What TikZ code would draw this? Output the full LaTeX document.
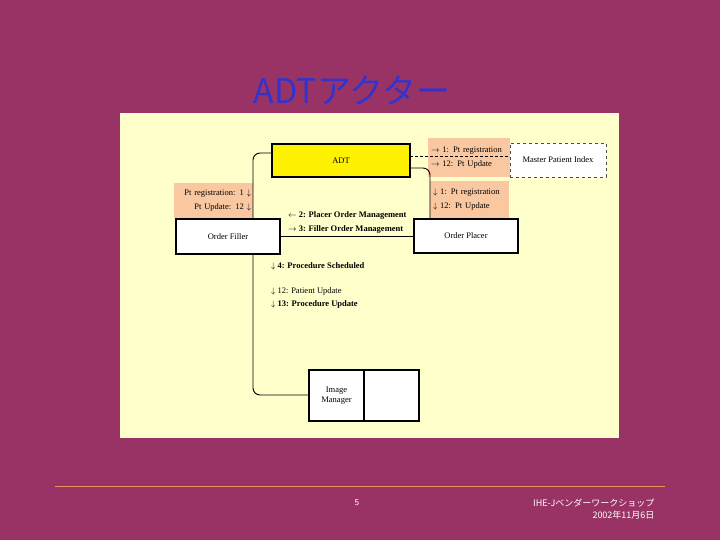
\documentclass[tikz,border=0pt]{standalone}
\usepackage{fontspec}
\setmainfont{Liberation Serif}
\newfontfamily\jp{Noto Sans CJK JP}
\definecolor{bgc}{RGB}{153,51,102}
\definecolor{panel}{RGB}{255,255,204}
\definecolor{ttl}{RGB}{51,51,204}
\definecolor{lbl}{RGB}{250,200,160}
\definecolor{fline}{RGB}{230,150,90}
\begin{document}
\begin{tikzpicture}[x=1pt,y=-1pt,
  box/.style={draw=black,line width=1.6pt,fill=white,font=\fontsize{8.5}{10}\selectfont},
  lab/.style={fill=lbl,inner sep=0pt,font=\fontsize{8.5}{14}\selectfont,align=left},
  txt/.style={font=\fontsize{8.5}{10}\selectfont,align=left,anchor=west,inner sep=0pt},
  conn/.style={draw=black,line width=0.9pt,rounded corners=7pt}]
\useasboundingbox (0,0) rectangle (720,540);
\fill[bgc] (0,0) rectangle (720,540);
\node[font=\jp\fontsize{34}{38}\selectfont,text=ttl] (title) at (352,90) {ADTアクター};
\fill[panel] (120,113) rectangle (619,438);
% orange labels
\node[lab,minimum width=79pt,minimum height=35pt,align=right,text width=75pt] (ll) at (213.5,200.5) {Pt registration: 1 $\downarrow$\\Pt Update: 12 $\downarrow$};
\node[lab,minimum width=82pt,minimum height=39pt,text width=76pt] (rt) at (469,157.5) {$\rightarrow$ 1: Pt registration\\$\rightarrow$ 12: Pt Update};
\node[lab,minimum width=79pt,minimum height=37pt,text width=73pt] (rl) at (469.5,199.5) {$\downarrow$ 1: Pt registration\\$\downarrow$ 12: Pt Update};
% connectors
\draw[conn] (272,153) -| (253,219);
\draw[conn] (253,254) |- (309,395);
\draw[conn] (410,168) -| (430,219);
\draw[black,line width=0.6pt] (280,236) -- (414,236);
\draw[black,densely dashed,line width=0.6pt] (410,156) -- (510,156);
% boxes
\node[box,fill=yellow,minimum width=138pt,minimum height=33pt] (adt) at (341,160.5) {ADT};
\node[box,draw=black!70,line width=0.8pt,dashed,minimum width=96pt,minimum height=34pt] (mpi) at (558,160) {Master Patient Index};
\node[box,minimum width=104pt,minimum height=35pt] (of) at (228,236.5) {Order Filler};
\node[box,minimum width=104pt,minimum height=34pt] (op) at (466,236) {Order Placer};
\node[box,minimum width=55pt,minimum height=51pt,align=center] (im) at (336.5,395.5) {Image\\Manager};
\node[box,minimum width=55pt,minimum height=51pt] (im2) at (391.5,395.5) {};
% texts
\node[txt] (t1) at (288,215) {$\leftarrow$ \textbf{2: Placer Order Management}};
\node[txt] (t2) at (288,229) {$\rightarrow$ \textbf{3: Filler Order Management}};
\node[txt] (t3) at (271,266) {$\downarrow$ \textbf{4: Procedure Scheduled}};
\node[txt] (t4) at (271,291) {$\downarrow$ 12: Patient Update};
\node[txt] (t5) at (271,304) {$\downarrow$ \textbf{13: Procedure Update}};
% footer
\draw[fline,line width=0.8pt] (55,486) -- (665,486);
\node[font=\fontsize{9}{11}\selectfont\sffamily,text=white] (pg) at (357,503) {5};
\node[font=\jp\fontsize{9}{12}\selectfont,text=white,align=right,anchor=east] (ft) at (658,509) {IHE-Jベンダーワークショップ\\2002年11月6日};
\end{tikzpicture}
\end{document}
